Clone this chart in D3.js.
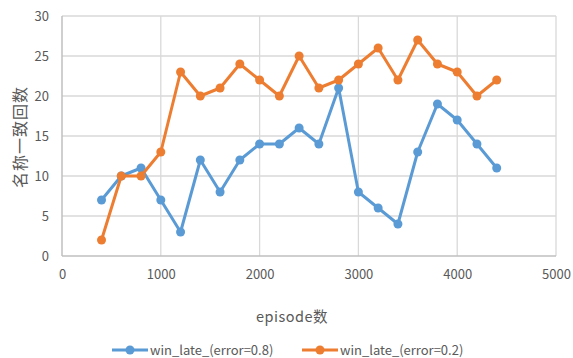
<!DOCTYPE html>
<html><head><meta charset="utf-8">
<script src="https://cdn.jsdelivr.net/npm/d3@7"></script>
<style>
body{margin:0;background:#fff;}
text{font-family:"Noto Sans CJK SC","Noto Sans",sans-serif;fill:#595959;}
</style></head><body>
<svg id="c" width="573" height="358"></svg>
<script>
const episodes = [400,600,800,1000,1200,1400,1600,1800,2000,2200,2400,2600,2800,3000,3200,3400,3600,3800,4000,4200,4400];
const err08 = [7,10,11,7,3,12,8,12,14,14,16,14,21,8,6,4,13,19,17,14,11];
const err02 = [2,10,10,13,23,20,21,24,22,20,25,21,22,24,26,22,27,24,23,20,22];
const xTicks = [0,1000,2000,3000,4000,5000];
const yTicks = [0,5,10,15,20,25,30];
const seriesNames = ["win_late_(error=0.8)","win_late_(error=0.2)"];
const colors = ["#5b9bd5","#ed7d31"];

const svg = d3.select("#c");
const L=62,R=556,T=16,B=256;
const x = d3.scaleLinear().domain([0,5000]).range([L,R]);
const y = d3.scaleLinear().domain([0,30]).range([B,T]);

// grid
svg.append("g").selectAll("line.h").data(yTicks.slice(1)).join("line")
 .attr("x1",L).attr("x2",R).attr("y1",d=>y(d)).attr("y2",d=>y(d))
 .attr("stroke","#d9d9d9").attr("stroke-width",1.3);
svg.append("g").selectAll("line.v").data(xTicks.slice(1)).join("line")
 .attr("y1",T).attr("y2",B).attr("x1",d=>x(d)).attr("x2",d=>x(d))
 .attr("stroke","#d9d9d9").attr("stroke-width",1.3);
// axes lines
svg.append("line").attr("x1",L).attr("x2",R).attr("y1",B).attr("y2",B).attr("stroke","#bfbfbf").attr("stroke-width",1.5);
svg.append("line").attr("x1",L).attr("x2",L).attr("y1",T).attr("y2",B).attr("stroke","#bfbfbf").attr("stroke-width",1.5);

const xa = svg.append("g").attr("transform",`translate(0,${B})`).call(d3.axisBottom(x).tickValues(xTicks).tickSize(0).tickPadding(14).tickFormat(d3.format("d")));
xa.select(".domain").remove();
xa.selectAll("text").attr("font-size",13).style("fill","#595959");
const ya = svg.append("g").attr("transform",`translate(${L},0)`).call(d3.axisLeft(y).tickValues(yTicks).tickSize(0).tickPadding(13));
ya.select(".domain").remove();
ya.selectAll("text").attr("font-size",13).style("fill","#595959");

svg.append("text").attr("x",292).attr("y",322).attr("text-anchor","middle").attr("font-size",14.5).attr("letter-spacing",0.5).text("episode数");
svg.append("text").attr("transform","translate(26,137) rotate(-90)").attr("text-anchor","middle").attr("font-size",16).attr("letter-spacing",1).text("名称一致回数");

const line = d3.line().x((d,i)=>x(episodes[i])).y(d=>y(d));
[err08,err02].forEach((s,k)=>{
  svg.append("path").datum(s).attr("d",line).attr("fill","none").attr("stroke",colors[k]).attr("stroke-width",3).attr("stroke-linejoin","round");
  svg.append("g").selectAll("circle").data(s).join("circle")
   .attr("cx",(d,i)=>x(episodes[i])).attr("cy",d=>y(d)).attr("r",4.5).attr("fill",colors[k]);
});

// legend
const lx=[112,302];
seriesNames.forEach((n,k)=>{
  const g=svg.append("g");
  g.append("line").attr("x1",lx[k]).attr("x2",lx[k]+36).attr("y1",350).attr("y2",350).attr("stroke",colors[k]).attr("stroke-width",3);
  g.append("circle").attr("cx",lx[k]+18).attr("cy",350).attr("r",4.5).attr("fill",colors[k]);
  g.append("text").attr("x",lx[k]+38).attr("y",355).attr("font-size",13).text(n);
});
</script></body></html>
